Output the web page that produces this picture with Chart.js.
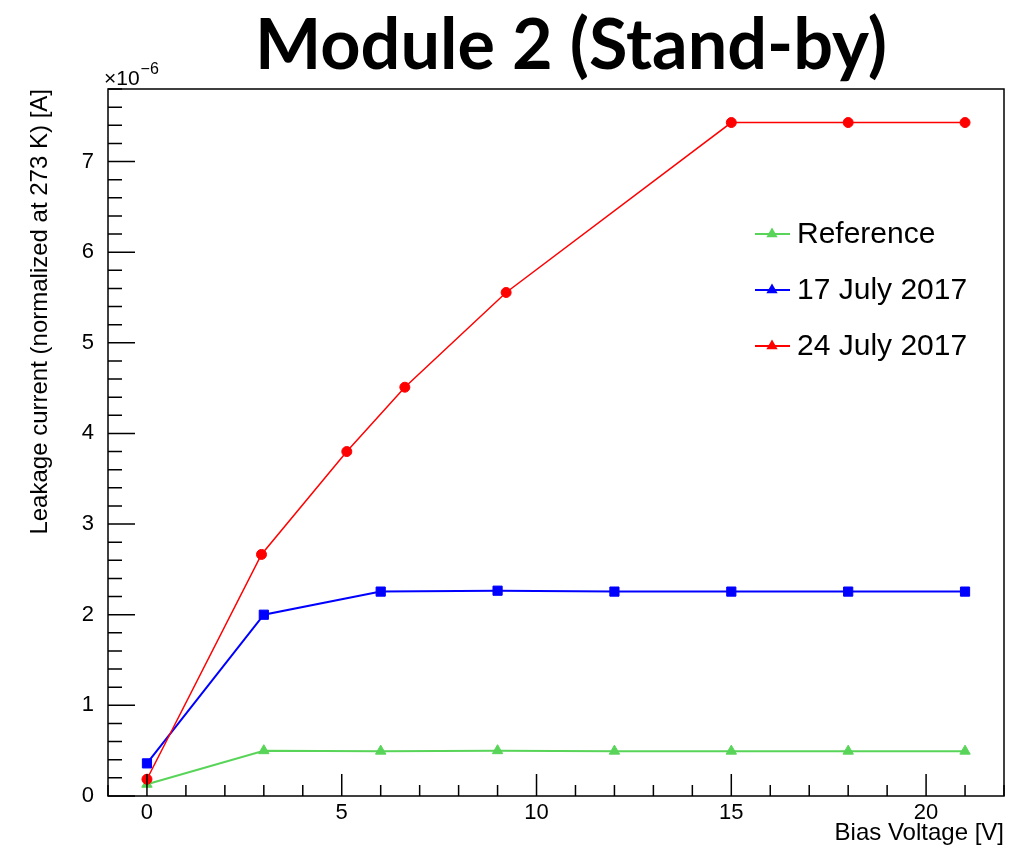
<!DOCTYPE html>
<html><head><meta charset="utf-8">
<script src="https://cdn.jsdelivr.net/npm/chart.js@4/dist/chart.umd.min.js"></script>
<style>html,body{margin:0;padding:0;background:#fff}canvas{display:block}</style>
</head><body>
<canvas id="c" width="1020" height="848"></canvas>
<script>
// ---- data (values in units of 1e-6 A) ----
const biasRef = [0, 3, 6, 9, 12, 15, 18, 21];
const leakRef = [0.13, 0.50, 0.495, 0.50, 0.495, 0.495, 0.495, 0.495];
const bias17 = [0, 3, 6, 9, 12, 15, 18, 21];
const leak17 = [0.36, 2.00, 2.255, 2.265, 2.255, 2.255, 2.255, 2.255];
const bias24 = [0, 2.94, 5.13, 6.62, 9.22, 15, 18, 21];
const leak24 = [0.185, 2.665, 3.80, 4.51, 5.555, 7.43, 7.43, 7.43];
const xTicks = [0, 5, 10, 15, 20];
const yTicks = [0, 1, 2, 3, 4, 5, 6, 7];
const seriesNames = ['Reference', '17 July 2017', '24 July 2017'];
const titleText = 'Module 2 (Stand-by)';
const xTitle = 'Bias Voltage [V]';
const yTitle = 'Leakage current (normalized at 273 K) [A]';

const GREEN = 'rgb(88,212,88)', BLUE = '#0000ff', RED = '#ff0000';
const pts = (xs, ys) => xs.map((v, i) => ({x: v, y: ys[i]}));
const FONT = 'Liberation Sans';

function drawTri(ctx, x, y, r, color) {
  ctx.save();
  ctx.fillStyle = color;
  ctx.beginPath();
  ctx.moveTo(x, y - r);
  ctx.lineTo(x + r * 0.866, y + r * 0.5);
  ctx.lineTo(x - r * 0.866, y + r * 0.5);
  ctx.closePath();
  ctx.fill();
  ctx.restore();
}

const rootPlugin = {
  id: 'rootFrame',
  afterDraw(chart) {
    const {ctx, chartArea: a, scales: {x, y}} = chart;
    ctx.save();
    // frame
    ctx.strokeStyle = '#000';
    ctx.lineWidth = 1.5;
    ctx.strokeRect(a.left, a.top, a.right - a.left, a.bottom - a.top);
    // ticks
    ctx.beginPath();
    for (let v = Math.ceil(x.min); v <= x.max; v++) {
      const px = x.getPixelForValue(v);
      const L = (v % 5 === 0) ? 22 : 11;
      ctx.moveTo(px, a.bottom); ctx.lineTo(px, a.bottom - L);
    }
    for (let i = 0; i * 0.2 <= y.max + 1e-9; i++) {
      const py = y.getPixelForValue(i * 0.2);
      const L = (i % 5 === 0) ? 27 : 14;
      ctx.moveTo(a.left, py); ctx.lineTo(a.left + L, py);
    }
    ctx.stroke();
    // exponent
    ctx.fillStyle = '#000';
    ctx.textBaseline = 'alphabetic';
    ctx.textAlign = 'left';
    ctx.font = `21px "${FONT}"`;
    ctx.fillText('\u00d710', 104, 85);
    const w10 = ctx.measureText('\u00d710').width;
    ctx.font = `16px "${FONT}"`;
    ctx.fillText('\u22126', 104 + w10 + 1, 74);
    // title
    ctx.font = 'bold 100px Lato';
    const tw = ctx.measureText(titleText).width;
    const size = 100 * 632 / tw;
    ctx.font = `bold ${size}px Lato`;
    ctx.textAlign = 'center';
    ctx.fillText(titleText, 571, 69);
    // legend
    const rows = [[seriesNames[0], GREEN], [seriesNames[1], BLUE], [seriesNames[2], RED]];
    const ys = [234, 290, 346];
    ctx.font = `30px "${FONT}"`;
    ctx.textAlign = 'left';
    ctx.textBaseline = 'middle';
    rows.forEach(([name, col], i) => {
      ctx.strokeStyle = col; ctx.lineWidth = 2;
      ctx.beginPath(); ctx.moveTo(755, ys[i]); ctx.lineTo(790, ys[i]); ctx.stroke();
      drawTri(ctx, 772, ys[i], 6.5, col);
      ctx.fillStyle = '#000';
      ctx.fillText(name, 797, ys[i] + 1);
    });
    ctx.restore();
  }
};

new Chart(document.getElementById('c'), {
  type: 'line',
  data: {
    datasets: [
      {label: seriesNames[2], data: pts(bias24, leak24), borderColor: RED, backgroundColor: RED,
       pointBackgroundColor: RED, pointBorderColor: RED, pointStyle: 'circle', pointRadius: 5, pointBorderWidth: 1,
       borderWidth: 1.5, tension: 0, order: 1},
      {label: seriesNames[1], data: pts(bias17, leak17), borderColor: BLUE, backgroundColor: BLUE,
       pointBackgroundColor: BLUE, pointBorderColor: BLUE, pointStyle: 'rect', pointRadius: 6.5, pointBorderWidth: 1,
       borderWidth: 2, tension: 0, order: 2},
      {label: seriesNames[0], data: pts(biasRef, leakRef), borderColor: GREEN, backgroundColor: GREEN,
       pointBackgroundColor: GREEN, pointBorderColor: GREEN, pointStyle: 'triangle', pointRadius: 6, pointBorderWidth: 1,
       borderWidth: 2, tension: 0, order: 3}
    ]
  },
  options: {
    responsive: false, animation: false, devicePixelRatio: 1,
    layout: {padding: {left: 0, top: 89, right: 16, bottom: 0}},
    plugins: {legend: {display: false}, tooltip: {enabled: false}, title: {display: false}},
    elements: {line: {fill: false}},
    scales: {
      x: {
        type: 'linear', min: -1, max: 22,
        afterFit(s) { s.height = 52; },
        afterBuildTicks(s) { s.ticks = xTicks.map(v => ({value: v})); },
        grid: {display: false, drawTicks: false}, border: {display: false},
        ticks: {font: {family: FONT, size: 22}, color: '#000', padding: 4, maxRotation: 0, autoSkip: false},
        title: {display: true, text: xTitle, align: 'end', color: '#000',
                font: {family: FONT, size: 24}, padding: {top: 0, bottom: 0}}
      },
      y: {
        type: 'linear', min: 0, max: 7.8,
        afterFit(s) { s.width = 108; },
        afterBuildTicks(s) { s.ticks = yTicks.map(v => ({value: v})); },
        grid: {display: false, drawTicks: false}, border: {display: false},
        ticks: {font: {family: FONT, size: 22}, color: '#000', padding: 14, autoSkip: false},
        title: {display: true, text: yTitle, align: 'end', color: '#000',
                font: {family: FONT, size: 24}, padding: {top: 26, bottom: 0}}
      }
    }
  },
  plugins: [rootPlugin]
});
</script>
</body></html>
